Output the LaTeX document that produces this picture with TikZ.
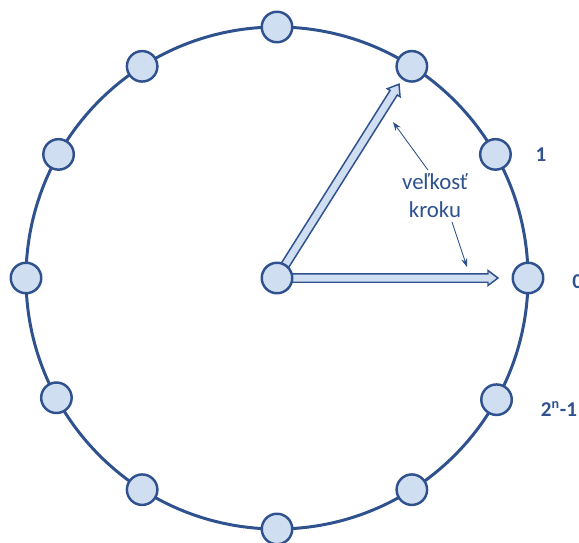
\documentclass[tikz,border=0pt]{standalone}
\usepackage{fontspec}
\setmainfont{Carlito}
\usetikzlibrary{arrows.meta, calc}
\definecolor{ringblue}{HTML}{2F528F}
\definecolor{dotfill}{HTML}{D0DEF1}

% hollow block arrow from #1 to the tip #2
\newcommand{\hollowarrow}[2]{%
    \coordinate (#2-h) at ($(#2)!0.2cm!(#1)$);
    \draw[blockarrow] ($(#1)!0.085cm!90:(#2)$) -- ($(#2-h)!0.085cm!90:(#2)$)
        -- ($(#2-h)!0.15cm!90:(#2)$) -- (#2) -- ($(#2-h)!0.15cm!-90:(#2)$)
        -- ($(#2-h)!0.085cm!-90:(#2)$) -- ($(#1)!0.085cm!-90:(#2)$) -- cycle;}

\begin{document}
\begin{tikzpicture}[x=0.02cm, y=0.02cm, >=Stealth,
    slot/.style={circle, draw=ringblue, line width=1.4pt, fill=dotfill, minimum size=0.61cm, inner sep=0pt},
    blockarrow/.style={draw=ringblue, line width=0.85pt, fill=dotfill, line join=miter},
    pointer/.style={->, ringblue, line width=0.5pt, >={Stealth[length=5pt, width=3.6pt]}},
    numlabel/.style={text=ringblue, font=\fontsize{12}{14}\selectfont\bfseries}]
    \useasboundingbox (-277,-264) rectangle (302,278);

    \draw[ringblue, line width=1.7pt] (0,0) circle [radius=251];

    \coordinate (tipzero) at (0:221);
    \coordinate (tipstep) at (57.8:229);
    \coordinate (centre) at (0,0);
    \hollowarrow{centre}{tipzero}
    \hollowarrow{centre}{tipstep}

    \foreach \a [count=\i] in {0,29.5,57.5,90,122.5,150.5,180,208.5,237.5,270,302.5,331}
        \node[slot] (s\i) at (\a:251) {};
    \node[slot] (c) at (centre) {};

    \node[text=ringblue, align=center, inner sep=2pt, font=\fontsize{13}{16}\selectfont] (kroktext) at (158,82) {veľkosť\\kroku};
    \coordinate (ptra) at (116,156);
    \coordinate (ptrb) at (190,11);
    \draw[pointer] ([xshift=-0.14cm]kroktext.north) -- (ptra);
    \draw[pointer] ([xshift=0.34cm]kroktext.south) -- (ptrb);

    \node[numlabel] (lone) at (264,123) {1};
    \node[numlabel, anchor=west, inner sep=0pt] (lzero) at (295,-4) {0};
    \node[numlabel] (lmax) at (282,-131) {2\textsuperscript{n}-1};
\end{tikzpicture}
\end{document}
